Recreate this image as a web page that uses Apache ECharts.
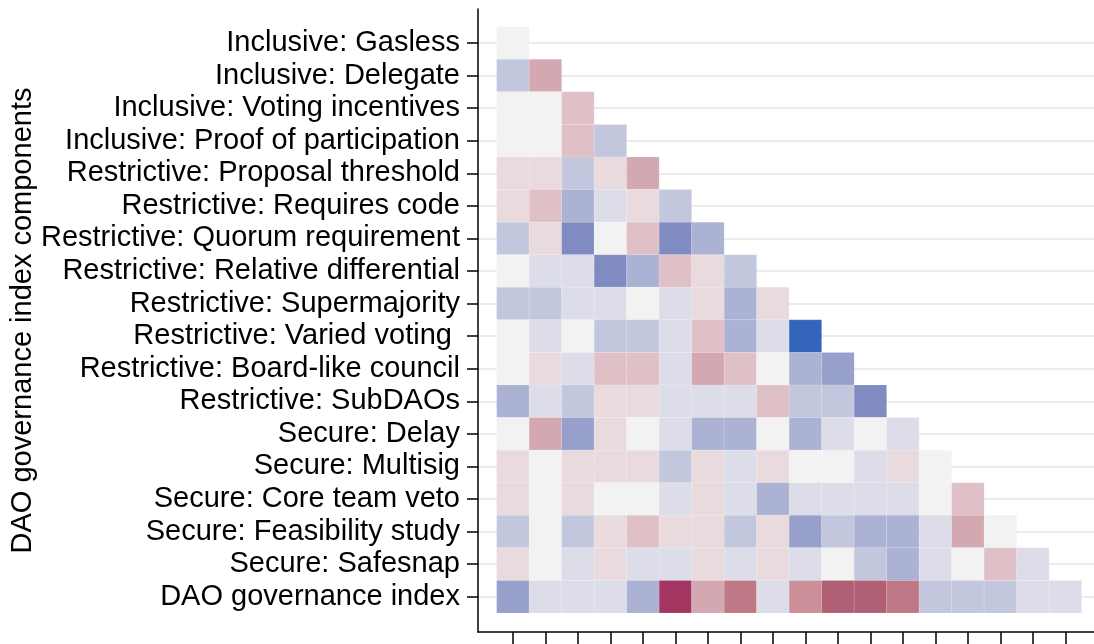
<!doctype html>
<html>
<head>
    <meta charset="utf-8">
    <title>DAO governance index components</title>
    <style>
        html, body { margin: 0; padding: 0; background: #fff; }
        #chart { width: 1094px; height: 644px; }
    </style>
</head>
<body>
<div id="chart"></div>
<script src="https://cdn.jsdelivr.net/npm/echarts@6/dist/echarts.min.js"></script>
<script>
    // row labels, top to bottom
    var rowLabels = [
        'Inclusive: Gasless',
        'Inclusive: Delegate',
        'Inclusive: Voting incentives',
        'Inclusive: Proof of participation',
        'Restrictive: Proposal threshold',
        'Restrictive: Requires code',
        'Restrictive: Quorum requirement',
        'Restrictive: Relative differential',
        'Restrictive: Supermajority',
        'Restrictive: Varied voting ',
        'Restrictive: Board-like council',
        'Restrictive: SubDAOs',
        'Secure: Delay',
        'Secure: Multisig',
        'Secure: Core team veto',
        'Secure: Feasibility study',
        'Secure: Safesnap',
        'DAO governance index'
    ];

    // lower triangle, one list per row (column 0 first)
    var corr = [
        [0],
        [-0.2, 0.3],
        [0, 0, 0.2],
        [0, 0, 0.2, -0.2],
        [0.1, 0.1, -0.2, 0.1, 0.3],
        [0.1, 0.2, -0.3, -0.1, 0.1, -0.2],
        [-0.2, 0.1, -0.5, 0, 0.2, -0.5, -0.3],
        [0, -0.1, -0.1, -0.5, -0.3, 0.2, 0.1, -0.2],
        [-0.2, -0.2, -0.1, -0.1, 0, -0.1, 0.1, -0.3, 0.1],
        [0, -0.1, 0, -0.2, -0.2, -0.1, 0.2, -0.3, -0.1, -0.9],
        [0, 0.1, -0.1, 0.2, 0.2, -0.1, 0.3, 0.2, 0, -0.3, -0.4],
        [-0.3, -0.1, -0.2, 0.1, 0.1, -0.1, -0.1, -0.1, 0.2, -0.2, -0.2, -0.5],
        [0, 0.3, -0.4, 0.1, 0, -0.1, -0.3, -0.3, 0, -0.3, -0.1, 0, -0.1],
        [0.1, 0, 0.1, 0.1, 0.1, -0.2, 0.1, -0.1, 0.1, 0, 0, -0.1, 0.1, 0],
        [0.1, 0, 0.1, 0, 0, -0.1, 0.1, -0.1, -0.3, -0.1, -0.1, -0.1, -0.1, 0, 0.2],
        [-0.2, 0, -0.2, 0.1, 0.2, 0.1, 0.1, -0.2, 0.1, -0.4, -0.2, -0.3, -0.3, -0.1, 0.3, 0],
        [0.1, 0, -0.1, 0.1, -0.1, -0.1, 0.1, -0.1, 0.1, -0.1, 0, -0.2, -0.3, -0.1, 0, 0.2, -0.1],
        [-0.4, -0.1, -0.1, -0.1, -0.3, 0.8, 0.3, 0.5, -0.1, 0.4, 0.6, 0.6, 0.5, -0.2, -0.2, -0.2, -0.1, -0.1]
    ];

    var rowIdx = rowLabels.map(function (d, i) { return i; });

    var cells = [];
    corr.forEach(function (row, r) {
        row.forEach(function (v, c) {
            cells.push([c, r, v]);
        });
    });

    var font = 'Liberation Sans, Arial, sans-serif';
    var chart = echarts.init(document.getElementById('chart'));

    var option = {
        backgroundColor: '#fff',
        animation: false,
        grid: { left: 478, right: 0, top: 9, bottom: 12, containLabel: false, outerBoundsMode: 'none' },
        visualMap: {
            type: 'piecewise',
            show: false,
            dimension: 2,
            pieces: [
                { lt: -0.7, color: '#3366bb' },
                { gte: -0.55, lt: -0.45, color: '#808bc2' },
                { gte: -0.45, lt: -0.35, color: '#979fcb' },
                { gte: -0.35, lt: -0.25, color: '#abb2d4' },
                { gte: -0.25, lt: -0.15, color: '#c3c7dd' },
                { gte: -0.15, lt: -0.05, color: '#dcdde9' },
                { gte: -0.05, lt: 0.05, color: '#f2f2f2' },
                { gte: 0.05, lt: 0.15, color: '#e9dadd' },
                { gte: 0.15, lt: 0.25, color: '#e0c0c7' },
                { gte: 0.25, lt: 0.35, color: '#d4a8b0' },
                { gte: 0.35, lt: 0.45, color: '#cc8f9a' },
                { gte: 0.45, lt: 0.55, color: '#be7886' },
                { gte: 0.55, lt: 0.7, color: '#b05f74' },
                { gte: 0.7, color: '#a33660' }
            ]
        },
        xAxis: {
            type: 'value',
            min: -1.074,
            max: 17.88,
            position: 'bottom',
            axisLine: { show: true, onZero: false, lineStyle: { color: '#000', width: 1.5 } },
            axisTick: { show: true, length: 12, customValues: corr[corr.length - 1].map(function (d, i) { return i; }), lineStyle: { color: '#000', width: 1.5 } },
            axisLabel: { show: false },
            splitLine: { show: false }
        },
        yAxis: {
            type: 'value',
            inverse: true,
            min: -1.044,
            max: 18.084,
            name: 'DAO governance index components',
            nameLocation: 'middle',
            nameGap: 441,
            nameMoveOverlap: false,
            nameTextStyle: { fontFamily: font, fontSize: 29, color: '#000' },
            axisLine: { show: true, onZero: false, lineStyle: { color: '#000', width: 1.5 } },
            axisTick: { show: true, length: 11, customValues: rowIdx, lineStyle: { color: '#000', width: 1.5 } },
            axisLabel: {
                customValues: rowIdx,
                margin: 18,
                fontFamily: font,
                fontSize: 29,
                color: '#000',
                formatter: function (v) { return rowLabels[Math.round(v)]; }
            },
            splitLine: { show: true, lineStyle: { color: '#ebebeb', width: 2 } }
        },
        series: [{
            type: 'custom',
            data: cells,
            renderItem: function (params, api) {
                var p = api.coord([api.value(0), api.value(1)]);
                var s = api.size([1, 1]);
                return {
                    type: 'rect',
                    shape: { x: p[0] - s[0] / 2, y: p[1] - s[1] / 2, width: s[0], height: s[1] },
                    style: { fill: api.visual('color'), stroke: 'rgba(255,255,255,0.12)', lineWidth: 1 }
                };
            }
        }]
    };
    chart.setOption(option);
</script>
</body>
</html>
